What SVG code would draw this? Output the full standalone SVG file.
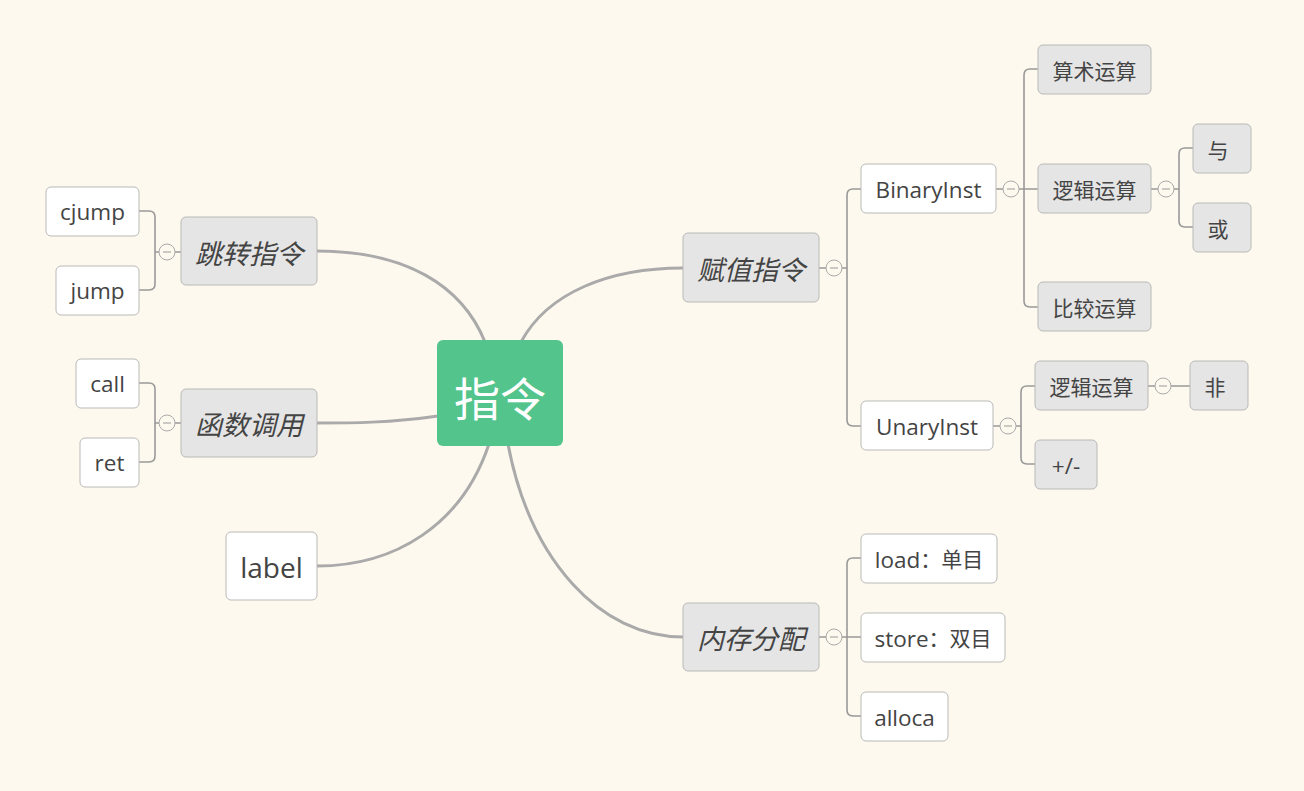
<svg xmlns="http://www.w3.org/2000/svg" width="1304" height="791" viewBox="0 0 1304 791">
<style>
.bg{fill:#fef9ee}
.w{fill:#ffffff;stroke:#b9b9b9;stroke-width:1}
.g{fill:#e5e5e5;stroke:#b9b9b9;stroke-width:1}
.t{font-family:"Open Sans","Noto Sans CJK SC",sans-serif;font-size:22.5px;fill:#444;text-anchor:middle;dominant-baseline:central}
.tc{font-family:"Noto Sans CJK SC",sans-serif;font-size:21px;fill:#444;text-anchor:middle;dominant-baseline:central}
.ti{font-family:"Noto Sans CJK SC",sans-serif;font-size:27px;fill:#444;text-anchor:middle;dominant-baseline:central;font-style:italic}
.main{fill:none;stroke:#aaa;stroke-width:3}
.sub{fill:none;stroke:#999;stroke-width:1.6}
.c{fill:#fef9ee;stroke:#aaa;stroke-width:1}
.cm{stroke:#999;stroke-width:1}
</style>
<rect class="bg" x="0" y="0" width="1304" height="791"/>
<g id="connectors">
<path class="main" d="M485,342 C462,285 405,251 317,251"/>
<path class="main" d="M438,416 C390,423 350,423 317,423"/>
<path class="main" d="M489,444 C462,525 395,566 317,566"/>
<path class="main" d="M521,342 C548,292 610,268 683,268"/>
<path class="main" d="M508,444 C530,560 600,637 683,637"/>
<path class="sub" d="M181,252 H175 M159,252 H155 M139,211 H149 Q155,211 155,217 V284 Q155,290 149,290 H139"/>
<path class="sub" d="M181,423 H175 M159,423 H155 M139,383 H149 Q155,383 155,389 V456 Q155,462 149,462 H139"/>
<path class="sub" d="M819,268 H826 M842,268 H847 M861,189 H853 Q847,189 847,195 V420 Q847,426 853,426 H861"/>
<path class="sub" d="M996,189 H1003 M1019,189 H1038 M1038,69 H1030 Q1024,69 1024,75 V301 Q1024,307 1030,307 H1038"/>
<path class="sub" d="M1151,189 H1158 M1174,189 H1179 M1193,148 H1185 Q1179,148 1179,154 V221 Q1179,227 1185,227 H1193"/>
<path class="sub" d="M993,426 H1000 M1016,426 H1021 M1035,386 H1027 Q1021,386 1021,392 V458 Q1021,464 1027,464 H1035"/>
<path class="sub" d="M1148,386 H1155 M1171,386 H1190"/>
<path class="sub" d="M819,637 H826 M842,637 H861 M861,558 H853 Q847,558 847,564 V710 Q847,716 853,716 H861"/>
</g>
<g id="collapse">
<circle class="c" cx="167" cy="252" r="8"/><line class="cm" x1="163" y1="252" x2="171" y2="252"/>
<circle class="c" cx="167" cy="423" r="8"/><line class="cm" x1="163" y1="423" x2="171" y2="423"/>
<circle class="c" cx="834" cy="268" r="8"/><line class="cm" x1="830" y1="268" x2="838" y2="268"/>
<circle class="c" cx="1011" cy="189" r="8"/><line class="cm" x1="1007" y1="189" x2="1015" y2="189"/>
<circle class="c" cx="1166" cy="189" r="8"/><line class="cm" x1="1162" y1="189" x2="1170" y2="189"/>
<circle class="c" cx="1008" cy="426" r="8"/><line class="cm" x1="1004" y1="426" x2="1012" y2="426"/>
<circle class="c" cx="1163" cy="386" r="8"/><line class="cm" x1="1159" y1="386" x2="1167" y2="386"/>
<circle class="c" cx="834" cy="637" r="8"/><line class="cm" x1="830" y1="637" x2="838" y2="637"/>
</g>
<g id="root">
<rect x="437" y="340" width="126" height="106" rx="6" fill="#52c48c"/>
<text x="500" y="396" font-family="Noto Sans CJK SC,sans-serif" font-size="46" fill="#fff" text-anchor="middle" dominant-baseline="central">指令</text>
</g>
<g id="n-tiaozhuan"><rect class="g" x="181" y="217" width="136" height="68" rx="5"/><text class="ti" x="249" y="252">跳转指令</text></g>
<g id="n-cjump"><rect class="w" x="46" y="187" width="93" height="49" rx="5"/><text class="t" x="92.5" y="211">cjump</text></g>
<g id="n-jump"><rect class="w" x="56" y="266" width="83" height="49" rx="5"/><text class="t" x="97.5" y="290">jump</text></g>
<g id="n-hanshu"><rect class="g" x="181" y="389" width="136" height="68" rx="5"/><text class="ti" x="249" y="423">函数调用</text></g>
<g id="n-call"><rect class="w" x="76" y="359" width="63" height="49" rx="5"/><text class="t" x="107.5" y="383">call</text></g>
<g id="n-ret"><rect class="w" x="80" y="438" width="59" height="49" rx="5"/><text class="t" x="109.5" y="462">ret</text></g>
<g id="n-label"><rect class="w" x="226" y="532" width="91" height="68" rx="5"/><text class="t" x="271.5" y="567" style="font-size:28px">label</text></g>
<g id="n-fuzhi"><rect class="g" x="683" y="233" width="136" height="69" rx="5"/><text class="ti" x="751" y="268">赋值指令</text></g>
<g id="n-binary"><rect class="w" x="861" y="164" width="135" height="49" rx="5"/><text class="t" x="928.5" y="189">BinaryInst</text></g>
<g id="n-suanshu"><rect class="g" x="1038" y="45" width="113" height="49" rx="5"/><text class="tc" x="1094.5" y="70">算术运算</text></g>
<g id="n-luoji1"><rect class="g" x="1038" y="164" width="113" height="49" rx="5"/><text class="tc" x="1094.5" y="189">逻辑运算</text></g>
<g id="n-bijiao"><rect class="g" x="1038" y="282" width="113" height="49" rx="5"/><text class="tc" x="1094.5" y="307">比较运算</text></g>
<g id="n-yu"><rect class="g" x="1193" y="124" width="58" height="49" rx="5"/><text class="tc" x="1218" y="149">与</text></g>
<g id="n-huo"><rect class="g" x="1193" y="203" width="58" height="49" rx="5"/><text class="tc" x="1218" y="228">或</text></g>
<g id="n-unary"><rect class="w" x="861" y="401" width="132" height="49" rx="5"/><text class="t" x="927" y="426">UnaryInst</text></g>
<g id="n-luoji2"><rect class="g" x="1035" y="361" width="113" height="49" rx="5"/><text class="tc" x="1091.5" y="386">逻辑运算</text></g>
<g id="n-fei"><rect class="g" x="1190" y="361" width="58" height="49" rx="5"/><text class="tc" x="1215" y="386">非</text></g>
<g id="n-pm"><rect class="g" x="1035" y="440" width="62" height="49" rx="5"/><text class="t" x="1066" y="465">+/-</text></g>
<g id="n-neicun"><rect class="g" x="683" y="603" width="136" height="68" rx="5"/><text class="ti" x="751" y="637">内存分配</text></g>
<g id="n-load"><rect class="w" x="861" y="534" width="136" height="49" rx="5"/><text class="t" x="929" y="559">load<tspan font-size="21px">：单目</tspan></text></g>
<g id="n-store"><rect class="w" x="861" y="613" width="144" height="49" rx="5"/><text class="t" x="933" y="638">store<tspan font-size="21px">：双目</tspan></text></g>
<g id="n-alloca"><rect class="w" x="861" y="692" width="87" height="49" rx="5"/><text class="t" x="904.5" y="717">alloca</text></g>
</svg>
